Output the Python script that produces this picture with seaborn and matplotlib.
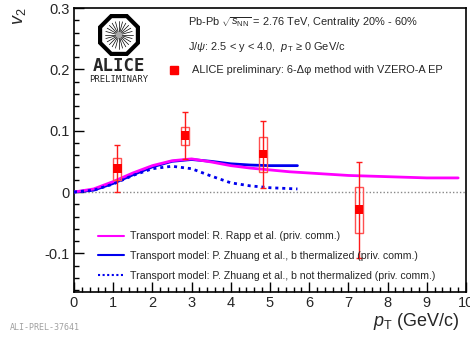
import numpy as np
import pandas as pd
import matplotlib
matplotlib.use("Agg")
import matplotlib.pyplot as plt
import matplotlib.patches as mpatches
from matplotlib.lines import Line2D
import seaborn as sns

# ALICE preliminary J/psi v2 points
pt_data = [1.1, 2.83, 4.82, 7.27]
v2_data = [0.038, 0.092, 0.062, -0.029]
stat_up = [0.076, 0.130, 0.115, 0.049]
stat_dn = [0.000, 0.054, 0.006, -0.107]
sys_up = [0.055, 0.106, 0.090, 0.008]
sys_dn = [0.020, 0.076, 0.033, -0.067]

# transport model curves
rapp_pt = [0, 0.5, 1.0, 1.5, 2.0, 2.5, 3.0, 3.5, 4.0, 4.5, 5.0, 5.5, 6.0, 6.5, 7.0, 7.5, 8.0, 8.5, 9.0, 9.5, 9.8]
rapp_v2 = [0, 0.005, 0.017, 0.031, 0.043, 0.051, 0.054, 0.049, 0.043, 0.039, 0.036, 0.033, 0.031, 0.029,
           0.027, 0.026, 0.025, 0.024, 0.023, 0.023, 0.023]
zth_pt = [0, 0.5, 1.0, 1.5, 2.0, 2.5, 3.0, 3.5, 4.0, 4.5, 5.0, 5.7]
zth_v2 = [0, 0.003, 0.014, 0.028, 0.041, 0.050, 0.053, 0.050, 0.046, 0.044, 0.043, 0.043]
znt_pt = [0, 0.5, 1.0, 1.5, 2.0, 2.5, 3.0, 3.5, 4.0, 4.5, 5.0, 5.7]
znt_v2 = [0, 0.003, 0.013, 0.027, 0.038, 0.042, 0.038, 0.026, 0.015, 0.010, 0.007, 0.005]

labels = ["Transport model: R. Rapp et al. (priv. comm.)",
          "Transport model: P. Zhuang et al., b thermalized (priv. comm.)",
          "Transport model: P. Zhuang et al., b not thermalized (priv. comm.)"]

sns.set_style("ticks")
plt.rcParams['font.family'] = ['Liberation Sans', 'DejaVu Sans']
plt.rcParams['mathtext.fontset'] = 'custom'
plt.rcParams['mathtext.rm'] = 'Liberation Sans'
plt.rcParams['mathtext.it'] = 'Liberation Sans:italic'

fig = plt.figure(figsize=(4.7, 3.43), dpi=100)
ax = fig.add_axes([74 / 470, 1 - 292 / 343, 392 / 470, 284 / 343])

ax.axhline(0, color="#888888", lw=1, ls=(0, (1, 1.5)), zorder=1)

curves = pd.concat([
    pd.DataFrame({"pt": rapp_pt, "v2": rapp_v2, "model": "rapp"}),
    pd.DataFrame({"pt": zth_pt, "v2": zth_v2, "model": "zth"}),
])
sns.lineplot(data=curves, x="pt", y="v2", hue="model", palette={"rapp": "#ff00ff", "zth": "#0000ee"},
             hue_order=["zth", "rapp"], lw=2, legend=False, ax=ax, zorder=3)
sns.lineplot(x=znt_pt, y=znt_v2, color="#0000ee", lw=2, ls=(0, (1.1, 1.4)), ax=ax, zorder=3)

red = "#ff1a1a"
for x, lo, hi in zip(pt_data, sys_dn, sys_up):
    ax.add_patch(mpatches.Rectangle((x - 0.1, lo), 0.2, hi - lo, fill=False, ec="#ff5050", lw=1, zorder=4))
v2 = np.array(v2_data)
ax.errorbar(pt_data, v2, yerr=[v2 - np.array(stat_dn), np.array(stat_up) - v2], fmt="none",
            ecolor=red, elinewidth=1, capsize=2, capthick=1, zorder=5)
sns.scatterplot(x=pt_data, y=v2_data, marker="s", s=40, color="#ff0000", edgecolor="none", ax=ax, zorder=6)

ax.set_xlim(0, 10)
ax.set_ylim(-0.163, 0.3)
ax.set_xticks(range(11))
ax.set_xticks(np.arange(0, 10.01, 0.2), minor=True)
ax.set_yticks([-0.1, 0, 0.1, 0.2, 0.3])
ax.set_yticklabels(["-0.1", "0", "0.1", "0.2", "0.3"])
ax.set_yticks(np.arange(-0.16, 0.301, 0.02), minor=True)
ax.tick_params(which="both", direction="in", top=False, right=False, labelsize=10.5, pad=3, width=1, color="black")
ax.tick_params(which="major", length=7)
ax.tick_params(which="minor", length=3.5)
for s in ax.spines.values():
    s.set_linewidth(1.2)
    s.set_color("black")
ax.set_xlabel("")
ax.set_ylabel("")

fig.text(460 / 470, 1 - 321 / 343, r"$p_{\rm T}$ (GeV/c)", ha="right", va="center", fontsize=13)
fig.text(20 / 470, 1 - 8 / 343, r"$v_2$", ha="center", va="top", rotation=90, fontsize=13)

# header text
ax.text(0.29, 0.95, r"Pb-Pb $\sqrt{s_{\rm NN}}$ = 2.76 TeV, Centrality 20% - 60%", transform=ax.transAxes,
        fontsize=7.9, va="center")
ax.text(0.29, 0.862, r"J/$\psi$: 2.5 < y < 4.0,  $p_{\rm T}$ ≥ 0 GeV/c", transform=ax.transAxes,
        fontsize=7.9, va="center")

h_pt = Line2D([], [], marker="s", ls="none", color="#ff0000", markersize=6)
leg1 = ax.legend([h_pt], ["ALICE preliminary: 6-Δφ method with VZERO-A EP"], loc="center left",
                 bbox_to_anchor=(0.215, 0.78), frameon=False, fontsize=7.9, handletextpad=0.7,
                 borderaxespad=0)
ax.add_artist(leg1)

handles = [Line2D([], [], color="#ff00ff", lw=1.5),
           Line2D([], [], color="#0000ee", lw=1.5),
           Line2D([], [], color="#0000ee", lw=1.5, ls=(0, (1, 1.2)))]
ax.legend(handles, labels, loc="lower left", bbox_to_anchor=(0.05, 0.025), frameon=False, fontsize=7.6,
          handlelength=2.5, handletextpad=0.55, labelspacing=0.92, borderaxespad=0)

# ALICE logo
lax = fig.add_axes([97 / 470, 1 - 57 / 343, 44 / 470, 44 / 343])
lax.set_xlim(-1, 1)
lax.set_ylim(-1, 1)
lax.set_aspect("equal")
lax.axis("off")
lax.add_patch(mpatches.RegularPolygon((0, 0), 8, radius=0.93, orientation=np.pi / 8,
                                      fill=False, ec="black", lw=3))
for a in np.linspace(0, np.pi, 12, endpoint=False):
    lax.plot([-0.62 * np.cos(a), 0.62 * np.cos(a)], [-0.62 * np.sin(a), 0.62 * np.sin(a)], color="black", lw=0.5)
lax.add_patch(mpatches.Circle((0, 0), 0.12, color="#aaaaaa", zorder=3))
fig.text(119 / 470, 1 - 66 / 343, "ALICE", ha="center", va="center", fontsize=12.5, fontweight="bold",
         family="DejaVu Sans Mono")
fig.text(119 / 470, 1 - 80 / 343, "PRELIMINARY", ha="center", va="center", fontsize=6.4,
         family="DejaVu Sans Mono")

fig.text(10 / 470, 1 - 328 / 343, "ALI-PREL-37641", ha="left", va="center", fontsize=6, color="#a0a0a0",
         family="DejaVu Sans Mono")

fig.savefig("out.png", dpi=100)
